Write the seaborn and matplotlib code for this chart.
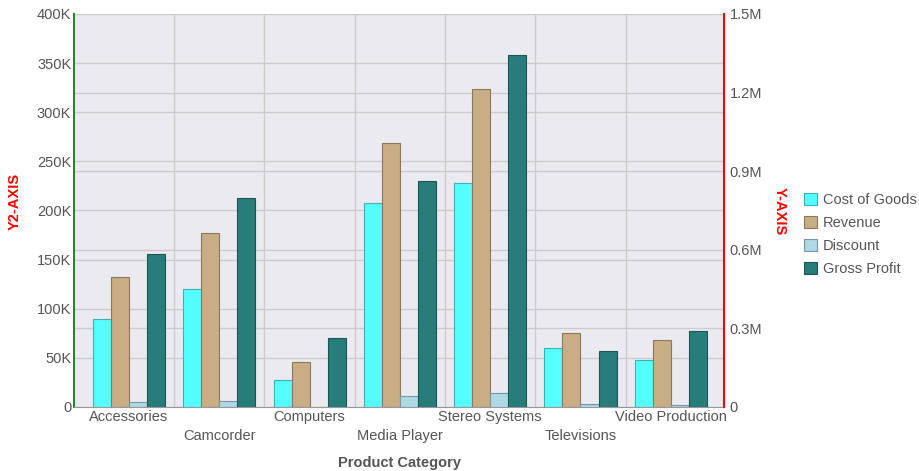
import numpy as np
import pandas as pd
import matplotlib
matplotlib.use("Agg")
import matplotlib.pyplot as plt
import matplotlib.colors as mcolors
from matplotlib.ticker import FuncFormatter, MultipleLocator
import seaborn as sns

categories = ["Accessories", "Camcorder", "Computers", "Media Player",
              "Stereo Systems", "Televisions", "Video Production"]
cost_of_goods = [90000, 120000, 27500, 207500, 228000, 60000, 47500]
revenue = [132000, 177000, 46000, 268500, 323500, 75000, 68000]
discount = [4800, 6000, 500, 11500, 14000, 2700, 1700]
gross_profit = [155700, 213000, 70000, 230000, 358000, 57300, 77400]

series = ["Cost of Goods", "Revenue", "Discount", "Gross Profit"]
palette = ["#55FFFF", "#C8AD85", "#ADD8E6", "#267D7A"]

df = pd.DataFrame({
    "Product Category": np.tile(categories, 4),
    "Measure": np.repeat(series, len(categories)),
    "Value": cost_of_goods + revenue + discount + gross_profit,
})

sns.set_style("darkgrid", {"axes.facecolor": "#EAEAF0", "grid.color": "#CCCCCC"})
plt.rcParams["font.family"] = ["Liberation Sans", "DejaVu Sans"]
text_gray = "#555555"
fs = 10.5

fig = plt.figure(figsize=(9.19, 4.71), dpi=100)
ax = fig.add_axes([74 / 919, 64 / 471, 650 / 919, 393 / 471])

sns.barplot(data=df, x="Product Category", y="Value", hue="Measure",
            palette=palette, saturation=1, width=0.8, gap=0, ax=ax, legend=True)

for p in ax.patches:
    fc = p.get_facecolor()
    p.set_edgecolor(tuple(np.array(mcolors.to_rgb(fc)) * 0.7))
    p.set_linewidth(0.8)

ax.set_ylim(0, 400000)
ax.set_xlim(-0.61, 6.59)
ax.yaxis.set_major_locator(MultipleLocator(50000))
ax.yaxis.set_minor_locator(MultipleLocator(80000))
ax.yaxis.set_major_formatter(FuncFormatter(lambda v, _: "0" if v == 0 else f"{v/1000:.0f}K"))
ax.grid(True, which="both", axis="y", color="#CCCCCC", linewidth=1)
ax.grid(False, axis="x")
for i in range(len(categories) - 1):
    ax.axvline(i + 0.5, color="#CCCCCC", linewidth=1, zorder=0)
ax.tick_params(axis="both", which="both", length=0, colors=text_gray, labelsize=fs)
ax.set_axisbelow(True)

ax.set_xticks(range(len(categories)))
ax.set_xticklabels([c if i % 2 == 0 else "\n" + c for i, c in enumerate(categories)],
                   linespacing=1.5)
ax.tick_params(axis="x", pad=2)
ax.tick_params(axis="y", pad=2)

ax.set_xlabel("Product Category", color=text_gray, fontsize=fs, fontweight="bold", labelpad=9)
ax.set_ylabel("")
fig.text(15 / 919, 1 - 201 / 471, "Y2-AXIS", color="#FF0000", fontsize=10.5, fontweight="bold",
         rotation=90, ha="center", va="center")

ax.spines["top"].set_visible(False)
ax.spines["left"].set_visible(True)
ax.spines["left"].set_color("#228B22")
ax.spines["left"].set_linewidth(1.5)
ax.spines["bottom"].set_visible(True)
ax.spines["bottom"].set_color("#999999")
ax.spines["right"].set_visible(False)

ax2 = ax.twinx()
ax2.set_ylim(0, 1500000)
ax2.yaxis.set_major_locator(MultipleLocator(300000))
ax2.yaxis.set_major_formatter(FuncFormatter(lambda v, _: "0" if v == 0 else f"{v/1e6:.1f}M"))
ax2.grid(False)
ax2.tick_params(axis="y", length=0, colors=text_gray, labelsize=fs, pad=4)
for side in ["top", "left", "bottom"]:
    ax2.spines[side].set_visible(False)
ax2.spines["right"].set_visible(True)
ax2.spines["right"].set_color("#FF0000")
ax2.spines["right"].set_linewidth(1.5)
fig.text(780 / 919, 1 - 211 / 471, "Y-AXIS", color="#FF0000", fontsize=10.5, fontweight="bold",
         rotation=-90, ha="center", va="center")

handles, labels = ax.get_legend_handles_labels()
ax.legend_.remove()
fig.legend(handles, labels, loc="upper left", bbox_to_anchor=(791 / 919, 1 - 180 / 471),
           frameon=False, fontsize=fs, handlelength=0.85, handleheight=0.85,
           handletextpad=0.45, labelspacing=0.62, labelcolor=text_gray)

fig.savefig("out.png", dpi=100)
